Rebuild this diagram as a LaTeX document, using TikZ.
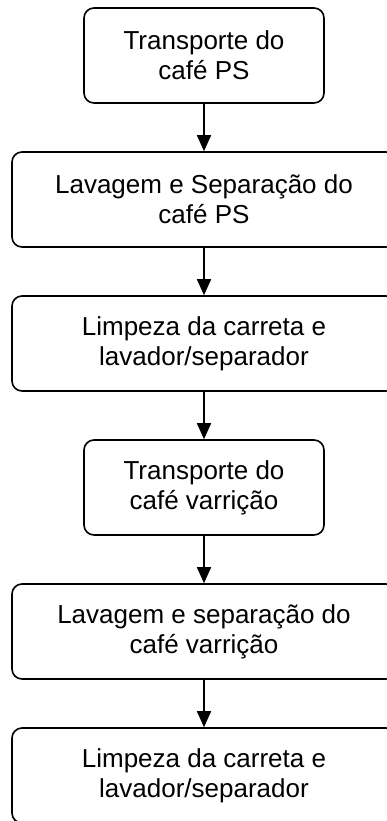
\documentclass[tikz,border=0pt]{standalone}
\usepackage{fontspec}
\setmainfont{Liberation Sans}
\usetikzlibrary{arrows.meta}

\begin{document}
\begin{tikzpicture}
  [x=1pt,y=-1pt,line width=1.6pt,
   etapa/.style={draw,rounded corners=10pt,align=center,inner sep=0pt,
     minimum height=95pt,font=\fontsize{26}{30}\selectfont},
   curta/.style={etapa,minimum width=240pt},
   longa/.style={etapa,minimum width=384pt},
   seta/.style={-{Triangle[length=16pt,width=14pt]}}]
  \useasboundingbox (0,0) rectangle (386,821);
  \node[curta] (1) at (204,55.5)  {Transporte do\\caf\'e PS};
  \node[longa] (2) at (204,199.5) {Lavagem e Separa\c{c}\~ao do\\caf\'e PS};
  \node[longa] (3) at (204,343.5) {Limpeza da carreta e\\lavador/separador};
  \node[curta] (4) at (204,487.5) {Transporte do\\caf\'e varri\c{c}\~ao};
  \node[longa] (5) at (204,631.5) {Lavagem e separa\c{c}\~ao do\\caf\'e varri\c{c}\~ao};
  \node[longa] (6) at (204,775.5) {Limpeza da carreta e\\lavador/separador};

  \foreach \from/\to in {1/2,2/3,3/4,4/5,5/6}
    \draw[seta] (\from) -- (\to);

\end{tikzpicture}
\end{document}
